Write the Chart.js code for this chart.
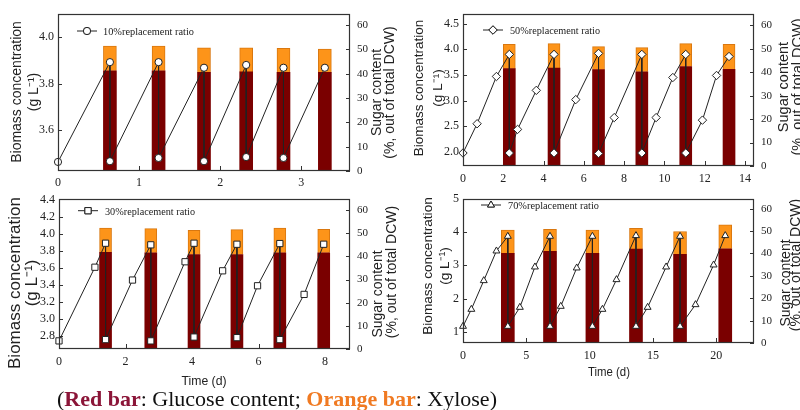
<!DOCTYPE html>
<html>
<head>
<meta charset="utf-8">
<script src="https://cdn.jsdelivr.net/npm/chart.js@4/dist/chart.umd.min.js"></script>
<style>
  html, body { margin: 0; padding: 0; background: #fff; }
  body { width: 800px; height: 410px; position: relative; overflow: hidden; }
  canvas { position: absolute; }
  #caption {
    position: absolute; left: 57px; top: 387px;
    font: 22px "Liberation Serif", "Times New Roman", serif;
    line-height: 24px; white-space: nowrap; color: #111;
  }
  #caption .glu { color: #8b1538; font-weight: bold; }
  #caption .xyl { color: #f07a22; font-weight: bold; }
</style>
</head>
<body>
<canvas id="c10" width="400" height="195" style="left:0;top:0"></canvas>
<canvas id="c50" width="400" height="195" style="left:400px;top:0"></canvas>
<canvas id="c30" width="400" height="225" style="left:0;top:185px"></canvas>
<canvas id="c70" width="400" height="225" style="left:400px;top:185px"></canvas>
<div id="caption">(<span class="glu">Red bar</span>: Glucose content; <span class="xyl">Orange bar</span>: Xylose)</div>

<script>
// ---- 10% replacement ratio ----
const days10    = [0, 0.64, 0.64, 1.24, 1.24, 1.80, 1.80, 2.32, 2.32, 2.78, 2.78, 3.29];
const biomass10 = [3.464, 3.893, 3.467, 3.893, 3.481, 3.869, 3.467, 3.881, 3.485, 3.869, 3.481, 3.869];
const harvest10 = [0.64, 1.24, 1.80, 2.32, 2.78, 3.29];
const glucose10 = [41.2, 41.2, 40.5, 40.7, 40.5, 40.5];
const xylose10  = [10.1, 10.1, 10.1, 9.9, 9.9, 9.6];
const biomassTicks10 = [3.6, 3.8, 4.0];
const dayTicks10     = [0, 1, 2, 3];

// ---- 50% replacement ratio ----
const days50    = [0, 0.70, 1.66, 2.30, 2.30, 2.71, 3.64, 4.52, 4.52, 5.60, 6.73, 6.73, 7.51, 8.88, 8.88, 9.59, 10.42, 11.06, 11.06, 11.89, 12.59, 13.21];
const biomass50 = [1.98, 2.55, 3.47, 3.90, 1.98, 2.44, 3.20, 3.90, 1.98, 3.02, 3.92, 1.97, 2.67, 3.90, 1.98, 2.67, 3.45, 3.90, 1.98, 2.62, 3.49, 3.86];
const harvest50 = [2.30, 4.52, 6.73, 8.88, 11.06, 13.21];
const glucose50 = [41.5, 41.8, 41.1, 40.2, 42.4, 41.2];
const xylose50  = [10.4, 10.4, 9.8, 10.3, 9.8, 10.7];
const biomassTicks50 = [2.0, 2.5, 3.0, 3.5, 4.0, 4.5];
const dayTicks50     = [0, 2, 4, 6, 8, 10, 12, 14];

// ---- 30% replacement ratio ----
const days30    = [0, 1.08, 1.40, 1.40, 2.21, 2.76, 2.76, 3.79, 4.06, 4.06, 4.92, 5.35, 5.35, 5.97, 6.64, 6.64, 7.37, 7.96];
const biomass30 = [2.745, 3.607, 3.888, 2.76, 3.457, 3.869, 2.745, 3.671, 3.888, 2.79, 3.565, 3.876, 2.783, 3.39, 3.884, 2.76, 3.289, 3.876];
const harvest30 = [1.40, 2.76, 4.06, 5.35, 6.64, 7.96];
const glucose30 = [41.8, 41.6, 40.8, 40.8, 41.6, 41.6];
const xylose30  = [10.5, 10.4, 10.5, 10.8, 10.7, 10.1];
const biomassTicks30 = [2.8, 3.0, 3.2, 3.4, 3.6, 3.8, 4.0, 4.2, 4.4];
const dayTicks30     = [0, 2, 4, 6, 8];

// ---- 70% replacement ratio ----
const days70    = [0, 0.66, 1.64, 2.64, 3.54, 3.54, 4.49, 5.68, 6.87, 6.87, 7.72, 8.98, 10.22, 10.22, 11.01, 12.12, 13.66, 13.66, 14.58, 16.04, 17.14, 17.14, 18.36, 19.79, 20.71];
const biomass70 = [1.17, 1.68, 2.54, 3.43, 3.87, 1.17, 1.74, 2.95, 3.87, 1.17, 1.77, 2.92, 3.87, 1.17, 1.68, 2.57, 3.89, 1.17, 1.74, 2.95, 3.87, 1.17, 1.82, 3.01, 3.89];
const harvest70 = [3.54, 6.87, 10.22, 13.66, 17.14, 20.71];
const glucose70 = [40.0, 41.0, 40.0, 41.9, 39.6, 42.1];
const xylose70  = [10.4, 9.8, 10.4, 9.3, 10.2, 10.7];
const biomassTicks70 = [1, 2, 3, 4, 5];
const dayTicks70     = [0, 5, 10, 15, 20];

// shared right axis (sugar content, % of DCW)
const sugarTicks = [0, 10, 20, 30, 40, 50, 60];

const RED = '#7a0000';
const ORANGE = '#fd9419';
const INK = '#222';
const SERIF = '"Liberation Serif", "Times New Roman", serif';
const SANS = '"Liberation Sans", Arial, sans-serif';

// frame, inward tick marks, legend and rotated axis titles
const panelDecor = {
  id: 'panelDecor',
  beforeDatasetsDraw(chart, args, o) {
    const { ctx, chartArea: a, scales } = chart;
    ctx.save();
    ctx.strokeStyle = '#333';
    ctx.lineWidth = 1;
    ctx.beginPath();
    scales.x.ticks.forEach(t => {
      const px = Math.round(scales.x.getPixelForValue(t.value)) + 0.5;
      ctx.moveTo(px, a.bottom); ctx.lineTo(px, a.bottom - 5);
    });
    scales.y.ticks.forEach(t => {
      const py = Math.round(scales.y.getPixelForValue(t.value)) + 0.5;
      ctx.moveTo(a.left, py); ctx.lineTo(a.left + 4, py);
    });
    scales.y1.ticks.forEach(t => {
      const py = Math.round(scales.y1.getPixelForValue(t.value)) + 0.5;
      ctx.moveTo(a.right, py); ctx.lineTo(a.right - 4, py);
    });
    ctx.stroke();
    ctx.restore();
  },
  afterDatasetsDraw(chart, args, o) {
    const { ctx, chartArea: a } = chart;
    ctx.save();
    ctx.strokeStyle = '#333';
    ctx.lineWidth = 1.2;
    ctx.strokeRect(Math.round(a.left) + 0.5, Math.round(a.top) + 0.5,
                   Math.round(a.right - a.left) - 1, Math.round(a.bottom - a.top) - 1);

    // legend entry for the biomass line
    const L = o.legend;
    ctx.strokeStyle = INK;
    ctx.lineWidth = 1;
    ctx.beginPath();
    ctx.moveTo(L.x1, L.y); ctx.lineTo(L.x2, L.y);
    ctx.stroke();
    ctx.fillStyle = '#fff';
    Chart.helpers.drawPoint(ctx, { pointStyle: o.marker, radius: o.markerRadius, rotation: 0, borderWidth: 1 },
                            (L.x1 + L.x2) / 2, L.y);
    ctx.fill(); ctx.stroke();
    ctx.fillStyle = INK;
    ctx.font = '11px ' + SERIF;
    ctx.textBaseline = 'middle';
    ctx.textAlign = 'left';
    ctx.fillText(o.label, L.tx, L.y + 1, L.tw);
    ctx.restore();
  },
  afterDraw(chart, args, o) {
    const { ctx } = chart;
    ctx.save();
    ctx.fillStyle = INK;
    ctx.textAlign = 'center';
    ctx.textBaseline = 'middle';
    const vertical = (lines, t) => {
      ctx.font = t.size + 'px ' + SANS;
      lines.forEach((s, i) => {
        ctx.save();
        ctx.translate(t.x[i], t.cy[i]);
        ctx.rotate(-Math.PI / 2);
        ctx.fillText(s, 0, 0);
        ctx.restore();
      });
    };
    vertical(['Biomass concentration', '(g L\u207B\u00B9)'], o.leftTitle);
    vertical(['Sugar content', '(%, out of total DCW)'], o.rightTitle);
    if (o.timeTitle) {
      ctx.font = '13px ' + SANS;
      ctx.fillText('Time (d)', o.timeTitle.x, o.timeTitle.y, o.timeTitle.w);
    }
    ctx.restore();
  }
};

function makePanel(id, p) {
  const canvas = document.getElementById(id);
  const W = canvas.width, H = canvas.height, a = p.area;
  const setTicks = arr => scale => { scale.ticks = arr.map(v => ({ value: v })); };
  return new Chart(canvas, {
    type: 'bar',
    data: {
      datasets: [
        {
          type: 'line', label: p.label, yAxisID: 'y', order: 0,
          data: p.days.map((d, i) => ({ x: d, y: p.biomass[i] })),
          borderColor: INK, borderWidth: 1, tension: 0, clip: false,
          pointStyle: p.marker, pointRadius: p.markerRadius,
          pointBackgroundColor: '#fff', pointBorderColor: INK, pointBorderWidth: 1
        },
        {
          label: 'Glucose', yAxisID: 'y1', stack: 'sugar', order: 1,
          data: p.harvest.map((d, i) => ({ x: d, y: p.glucose[i] })),
          backgroundColor: RED, barThickness: p.barWidth
        },
        {
          label: 'Xylose', yAxisID: 'y1', stack: 'sugar', order: 1,
          data: p.harvest.map((d, i) => ({ x: d, y: p.xylose[i] })),
          backgroundColor: ORANGE, borderColor: '#d9770f', borderWidth: 1, borderSkipped: 'bottom',
          barThickness: p.barWidth
        }
      ]
    },
    options: {
      responsive: false, animation: false, events: [],
      layout: { padding: { top: a.top, left: 0, right: 0, bottom: 0 } },
      plugins: {
        legend: { display: false }, tooltip: { enabled: false },
        panelDecor: {
          label: p.label, marker: p.marker, markerRadius: p.markerRadius,
          legend: p.legend, leftTitle: p.leftTitle, rightTitle: p.rightTitle, timeTitle: p.timeTitle
        }
      },
      scales: {
        x: {
          type: 'linear', position: 'bottom', offset: false,
          min: p.xRange[0], max: p.xRange[1],
          grid: { display: false, drawTicks: false, offset: false }, border: { display: false },
          ticks: { font: { family: SERIF, size: 12 }, color: INK, padding: p.xPad, maxRotation: 0 },
          afterBuildTicks: setTicks(p.dayTicks),
          afterFit: s => { s.height = H - a.bottom; }
        },
        y: {
          type: 'linear', position: 'left',
          min: p.yRange[0], max: p.yRange[1],
          grid: { display: false, drawTicks: false }, border: { display: false },
          ticks: { font: { family: SERIF, size: 12 }, color: INK, padding: 4,
                   callback: v => v.toFixed(p.decimals) },
          afterBuildTicks: setTicks(p.biomassTicks),
          afterFit: s => { s.width = a.left; }
        },
        y1: {
          type: 'linear', position: 'right', stacked: true,
          min: 0, max: p.sugarMax,
          grid: { display: false, drawTicks: false }, border: { display: false },
          ticks: { font: { family: SERIF, size: 11 }, color: INK, padding: 7 },
          afterBuildTicks: setTicks(sugarTicks),
          afterFit: s => { s.width = W - a.right; }
        }
      }
    },
    plugins: [panelDecor]
  });
}

makePanel('c10', {
  label: '10%replacement ratio', marker: 'circle', markerRadius: 3.6,
  days: days10, biomass: biomass10, harvest: harvest10, glucose: glucose10, xylose: xylose10,
  biomassTicks: biomassTicks10, dayTicks: dayTicks10, decimals: 1,
  area: { left: 58, right: 350, top: 14, bottom: 171 },
  xRange: [0, 3.6], yRange: [3.425, 4.1], sugarMax: 64.5, barWidth: 13, xPad: 5,
  legend: { x1: 77, x2: 97, y: 31, tx: 103, tw: 91 },
  leftTitle: { x: [17.5, 34], cy: [92, 92], size: 14 },
  rightTitle: { x: [376.7, 390.5], cy: [92.5, 92.5], size: 14 }
});

makePanel('c50', {
  label: '50%replacement ratio', marker: 'rectRot', markerRadius: 4.2,
  days: days50, biomass: biomass50, harvest: harvest50, glucose: glucose50, xylose: xylose50,
  biomassTicks: biomassTicks50, dayTicks: dayTicks50, decimals: 1,
  area: { left: 63, right: 354, top: 13, bottom: 166 },
  xRange: [0, 14.45], yRange: [1.727, 4.695], sugarMax: 65, barWidth: 12, xPad: 6,
  legend: { x1: 83, x2: 103, y: 30, tx: 110, tw: 90 },
  leftTitle: { x: [19, 38], cy: [88, 88], size: 13.5 },
  rightTitle: { x: [384, 398], cy: [87, 87], size: 14.5 }
});

makePanel('c30', {
  label: '30%replacement ratio', marker: 'rect', markerRadius: 4.4,
  days: days30, biomass: biomass30, harvest: harvest30, glucose: glucose30, xylose: xylose30,
  biomassTicks: biomassTicks30, dayTicks: dayTicks30, decimals: 1,
  area: { left: 59, right: 350, top: 9, bottom: 164 },
  xRange: [0, 8.75], yRange: [2.65, 4.41], sugarMax: 65, barWidth: 12, xPad: 6,
  legend: { x1: 78, x2: 98, y: 25.7, tx: 105, tw: 90 },
  leftTitle: { x: [15.5, 32.5], cy: [98, 98], size: 17 },
  rightTitle: { x: [378, 392], cy: [109, 87], size: 14 },
  timeTitle: { x: 204, y: 196, w: 45 }
});

makePanel('c70', {
  label: '70%replacement ratio', marker: 'triangle', markerRadius: 4,
  days: days70, biomass: biomass70, harvest: harvest70, glucose: glucose70, xylose: xylose70,
  biomassTicks: biomassTicks70, dayTicks: dayTicks70, decimals: 0,
  area: { left: 63, right: 354, top: 5, bottom: 158 },
  xRange: [0, 22.98], yRange: [0.67, 5], sugarMax: 64.5, barWidth: 13, xPad: 5.5,
  legend: { x1: 81, x2: 101, y: 20, tx: 108, tw: 91 },
  leftTitle: { x: [28, 45], cy: [81, 81], size: 13.6 },
  rightTitle: { x: [386, 396], cy: [98, 80], size: 14 },
  timeTitle: { x: 209, y: 187, w: 42 }
});
</script>
</body>
</html>
